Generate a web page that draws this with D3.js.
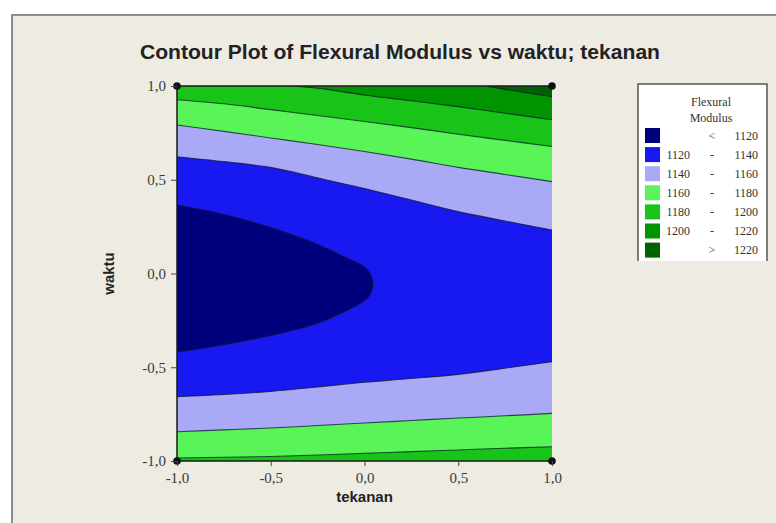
<!DOCTYPE html>
<html><head><meta charset="utf-8">
<script src="https://cdn.jsdelivr.net/npm/d3@7"></script>
<style>body{margin:0;background:#fff}svg{display:block}</style>
</head><body><svg id="c" width="776" height="523"></svg>
<script>
// ---------- data ----------
const titleText = "Contour Plot of Flexural Modulus vs waktu; tekanan";
const xLabel = "tekanan";
const yLabel = "waktu";
const xTicks = [-1, -0.5, 0, 0.5, 1];
const yTicks = [-1, -0.5, 0, 0.5, 1];
const levels = [1120, 1140, 1160, 1180, 1200, 1220];
const legendTitle = ["Flexural", "Modulus"];
const legendRows = [["", "<", "1120"], ["1120", "-", "1140"], ["1140", "-", "1160"], ["1160", "-", "1180"], ["1180", "-", "1200"], ["1200", "-", "1220"], ["", ">", "1220"]];
const bandColors = ["#00007c", "#1818f0", "#a9a9f6", "#58f458", "#18c418", "#009400", "#006200"];
const designPoints = [[-1, -1], [-1, 1], [1, -1], [1, 1]];

// contour lines, [tekanan, waktu]
const c1220 = [[0.64, 1.0], [0.75, 0.982], [0.88, 0.962], [1.0, 0.943]];
const c1200 = [[-0.38, 1.0], [-0.2, 0.982], [0.0, 0.952], [0.25, 0.921], [0.5, 0.89], [0.75, 0.855], [1.0, 0.82]];
const c1180Up = [[-1, 0.927], [-0.75, 0.905], [-0.5, 0.874], [-0.25, 0.843], [0, 0.811], [0.25, 0.778], [0.5, 0.743], [0.75, 0.71], [1, 0.677]];
const c1160Up = [[-1, 0.792], [-0.75, 0.758], [-0.5, 0.723], [-0.25, 0.688], [0, 0.651], [0.25, 0.61], [0.5, 0.566], [0.75, 0.528], [1, 0.49]];
const c1140Up = [[-1, 0.623], [-0.75, 0.597], [-0.5, 0.566], [-0.25, 0.51], [0, 0.453], [0.25, 0.392], [0.5, 0.33], [0.75, 0.28], [1, 0.232]];
const c1120 = [[-1, 0.365], [-0.75, 0.315], [-0.5, 0.245], [-0.25, 0.155], [-0.1, 0.085], [0, 0.035], [0.035, -0.01], [0.045, -0.06], [0.03, -0.11], [0, -0.145], [-0.1, -0.2], [-0.25, -0.265], [-0.5, -0.33], [-0.75, -0.38], [-1, -0.419]];
const c1140Lo = [[-1, -0.657], [-0.75, -0.645], [-0.5, -0.629], [-0.25, -0.605], [0, -0.58], [0.25, -0.56], [0.5, -0.538], [0.75, -0.505], [1, -0.47]];
const c1160Lo = [[-1, -0.844], [-0.75, -0.834], [-0.5, -0.824], [-0.25, -0.811], [0, -0.797], [0.25, -0.784], [0.5, -0.771], [0.75, -0.759], [1, -0.746]];
const c1180Lo = [[-1, -0.984], [-0.75, -0.98], [-0.5, -0.976], [-0.25, -0.968], [0, -0.959], [0.25, -0.95], [0.5, -0.941], [0.75, -0.932], [1, -0.924]];

// ---------- layout ----------
const svg = d3.select("#c");
const W = 776, H = 523;
const L = 177, R = 552, T = 86, B = 461;
const x = d3.scaleLinear().domain([-1, 1]).range([L, R]);
const y = d3.scaleLinear().domain([-1, 1]).range([B, T]);
const fmt = d => (d < 0 ? "-" : "") + Math.abs(d).toFixed(1).replace(".", ",");

// figure background with frame (frame runs off the right and bottom edges)
svg.append("rect").attr("x", 0).attr("y", 0).attr("width", W).attr("height", H).attr("fill", "#ffffff");
svg.append("rect").attr("x", 12).attr("y", 15).attr("width", W + 20).attr("height", H + 20)
  .attr("fill", "#eeebe2").attr("stroke", "#8c8c8c").attr("stroke-width", 2);

// clip
svg.append("defs").append("clipPath").attr("id", "pc")
  .append("rect").attr("x", L).attr("y", T).attr("width", R - L).attr("height", B - T);
const g = svg.append("g").attr("clip-path", "url(#pc)");

const lineC = d3.line().x(d => x(d[0])).y(d => y(d[1])).curve(d3.curveCatmullRom.alpha(0.5));
const pt = p => x(p[0]) + "," + y(p[1]);

// paint: highest band first, then regions below each level
g.append("rect").attr("x", L).attr("y", T).attr("width", R - L).attr("height", B - T).attr("fill", bandColors[6]);
[[c1220, bandColors[5]], [c1200, bandColors[4]]].forEach(([c, col]) => {
  const d = lineC(c) + "L" + pt([1, -1]) + "L" + pt([-1, -1]) + "L" + pt([-1, 1]) + "Z";
  g.append("path").attr("d", d).attr("fill", col);
});
[[c1180Up, c1180Lo, bandColors[3]], [c1160Up, c1160Lo, bandColors[2]], [c1140Up, c1140Lo, bandColors[1]]].forEach(([up, lo, col]) => {
  const d = lineC(up) + lineC(lo.slice().reverse()).replace(/^M/, "L") + "Z";
  g.append("path").attr("d", d).attr("fill", col);
});
g.append("path").attr("d", lineC(c1120) + "Z").attr("fill", bandColors[0]);

// contour lines
[c1220, c1200, c1180Up, c1160Up, c1140Up, c1120, c1140Lo, c1160Lo, c1180Lo].forEach(c => {
  g.append("path").attr("d", lineC(c)).attr("fill", "none")
    .attr("stroke", "#0b1a2a").attr("stroke-width", 1.1).attr("stroke-opacity", 0.75);
});

// plot edges (top, left, bottom)
svg.append("path").attr("d", `M${R},${T}L${L},${T}L${L},${B}L${R},${B}`)
  .attr("fill", "none").attr("stroke", "#1a1a1a").attr("stroke-width", 1.5);

// design points
svg.selectAll("circle.dp").data(designPoints).join("circle").attr("class", "dp")
  .attr("cx", d => x(d[0])).attr("cy", d => y(d[1])).attr("r", 3.8).attr("fill", "#111");

// axes
const ax = svg.append("g").attr("transform", `translate(0,${B})`)
  .call(d3.axisBottom(x).tickValues(xTicks).tickFormat(fmt).tickSize(5).tickPadding(6));
const ay = svg.append("g").attr("transform", `translate(${L},0)`)
  .call(d3.axisLeft(y).tickValues(yTicks).tickFormat(fmt).tickSize(6).tickPadding(5));
[ax, ay].forEach(a => {
  a.select(".domain").remove();
  a.selectAll(".tick line").attr("stroke", "#444");
  a.selectAll(".tick text").attr("fill", "#3a3a3a").style("font-family", "'Liberation Serif', serif").style("font-size", "15px");
});

// axis titles
svg.append("text").attr("x", (L + R) / 2).attr("y", 502).attr("text-anchor", "middle")
  .style("font-family", "'Liberation Sans', Arial, sans-serif").style("font-weight", "bold").style("font-size", "15px")
  .attr("fill", "#222").text(xLabel);
svg.append("text").attr("transform", `translate(114,${(T + B) / 2}) rotate(-90)`).attr("text-anchor", "middle")
  .style("font-family", "'Liberation Sans', Arial, sans-serif").style("font-weight", "bold").style("font-size", "15px")
  .attr("fill", "#222").text(yLabel);

// title
const tt = svg.append("text").attr("x", 400).attr("y", 59).attr("text-anchor", "middle")
  .style("font-family", "'Liberation Sans', Arial, sans-serif").style("font-weight", "bold").style("font-size", "19px")
  .attr("fill", "#222").text(titleText);
const tw = tt.node().getComputedTextLength();
tt.style("font-size", (19 * 520 / tw).toFixed(2) + "px");

// legend
const lg = svg.append("g");
lg.append("rect").attr("x", 638).attr("y", 84).attr("width", 129).attr("height", 177).attr("fill", "#ffffff");
lg.append("path").attr("d", "M638,261L638,84L767,84L767,261").attr("fill", "none").attr("stroke", "#555").attr("stroke-width", 1.5);
legendTitle.forEach((t, i) => {
  lg.append("text").attr("x", 711).attr("y", 106 + i * 16).attr("text-anchor", "middle")
    .style("font-family", "'Liberation Serif', serif").style("font-size", "12px").attr("fill", "#333").text(t);
});
legendRows.forEach((r, i) => {
  const yy = 128 + i * 19.1;
  lg.append("rect").attr("x", 645).attr("y", yy).attr("width", 15).attr("height", 15).attr("fill", bandColors[i]);
  const ty = yy + 11.5;
  const st = s => s.style("font-family", "'Liberation Serif', serif").style("font-size", "12px").attr("fill", "#333");
  st(lg.append("text").attr("x", 690).attr("y", ty).attr("text-anchor", "end").text(r[0]));
  st(lg.append("text").attr("x", 712).attr("y", ty).attr("text-anchor", "middle").text(r[1]));
  st(lg.append("text").attr("x", 758).attr("y", ty).attr("text-anchor", "end").text(r[2]));
});
</script>
</body></html>
